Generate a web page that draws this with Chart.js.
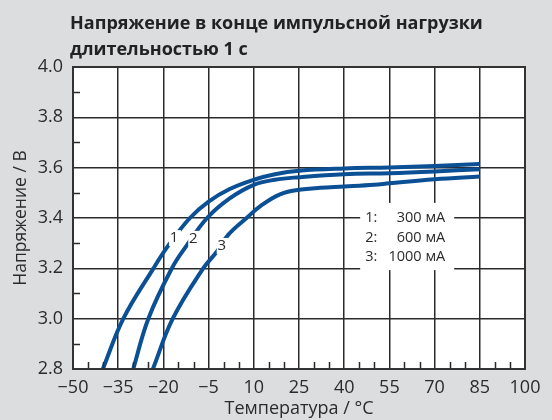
<!DOCTYPE html>
<html>
<head>
<meta charset="utf-8">
<script src="https://cdn.jsdelivr.net/npm/chart.js@4"></script>
<style>
  html, body { margin: 0; padding: 0; background: #dcdddf; }
  #wrap { width: 552px; height: 420px; position: relative; }
</style>
</head>
<body>
<div id="wrap"><canvas id="chart"></canvas></div>
<script>
// voltage at the end of a 1 s pulse vs. temperature, three load currents
const temps300 = [-40.1, -33.3, -23.3, -18.4, -11.2, -5, 2, 10, 17, 25, 40, 55, 70, 85];
const volts300 = [2.8, 3.0, 3.2, 3.29, 3.4, 3.465, 3.515, 3.552, 3.574, 3.588, 3.597, 3.601, 3.607, 3.615];

const temps600 = [-30, -25, -17.2, -12.3, -5.5, 2, 10, 17, 25, 40, 55, 70, 85];
const volts600 = [2.8, 3.0, 3.2, 3.29, 3.4, 3.478, 3.532, 3.552, 3.562, 3.574, 3.578, 3.585, 3.594];

const temps1000 = [-23.5, -16.9, -6.8, -2.3, 1.5, 7.6, 12.5, 18.7, 25, 32, 40, 50, 55, 70, 85];
const volts1000 = [2.8, 3.0, 3.2, 3.266, 3.333, 3.4, 3.45, 3.494, 3.512, 3.52, 3.525, 3.532, 3.538, 3.554, 3.565];

const curveNames = ['1', '2', '3'];
const currents = ['300 мА', '600 мА', '1000 мА'];

const xMin = -50, xMax = 100, xStep = 15;
const yMin = 2.8, yMax = 4.0, yStep = 0.2;

const titleLines = ['Напряжение в конце импульсной нагрузки', 'длительностью 1 с'];
const xTitle = 'Температура / °C';
const yTitle = 'Напряжение / В';

const FONT = "'Open Sans', 'Noto Sans', sans-serif";
const BLUE = '#0b4f94';
const INK = '#2b2b2b';

function pts(ts, vs) {
  return ts.map((t, i) => ({ x: t, y: vs[i] }));
}

// where the curve numbers sit (data coords) and the legend box corners
const labelSpots = [[-16.5, 3.32], [-10.1, 3.317], [-0.65, 3.289]];
const legendBox = { x0: 45.3, x1: 76.5, y0: 3.46, y1: 3.193 };

const decor = {
  id: 'decor',
  beforeDraw(chart) {
    const { ctx, chartArea: a } = chart;
    ctx.save();
    ctx.fillStyle = '#fff';
    ctx.fillRect(a.left, a.top, a.right - a.left, a.bottom - a.top);
    ctx.restore();
  },
  afterDatasetsDraw(chart) {
    const { ctx, chartArea: a, scales: { x, y } } = chart;
    ctx.save();

    // small inward ticks between the grid lines
    ctx.strokeStyle = INK;
    ctx.lineWidth = 1.5;
    ctx.beginPath();
    for (let t = xMin + 5; t < xMax; t += 5) {
      if ((t - xMin) % xStep === 0) continue;
      const px = Math.round(x.getPixelForValue(t)) + 0.5;
      ctx.moveTo(px, a.bottom);
      ctx.lineTo(px, a.bottom - 7);
    }
    for (let v = yMin + 0.1; v < yMax - 0.05; v += 0.2) {
      const py = Math.round(y.getPixelForValue(v)) + 0.5;
      ctx.moveTo(a.left, py);
      ctx.lineTo(a.left + 7, py);
    }
    ctx.stroke();

    // frame
    ctx.lineWidth = 2;
    ctx.strokeStyle = '#333';
    ctx.strokeRect(a.left, a.top, a.right - a.left, a.bottom - a.top);

    // curve numbers, with the line broken under them
    ctx.font = '15px ' + FONT;
    ctx.textAlign = 'center';
    ctx.textBaseline = 'middle';
    labelSpots.forEach(([t, v], i) => {
      const px = x.getPixelForValue(t), py = y.getPixelForValue(v);
      ctx.fillStyle = '#fff';
      ctx.fillRect(px - 5, py - 8, 12, 16);
      ctx.fillStyle = INK;
      ctx.fillText(curveNames[i], px, py);
    });

    // legend box
    const bx0 = x.getPixelForValue(legendBox.x0), bx1 = x.getPixelForValue(legendBox.x1);
    const by0 = y.getPixelForValue(legendBox.y0), by1 = y.getPixelForValue(legendBox.y1);
    ctx.fillStyle = '#fff';
    ctx.fillRect(bx0, by0, bx1 - bx0, by1 - by0);
    ctx.fillStyle = INK;
    ctx.font = '14.5px ' + FONT;
    const row0 = y.getPixelForValue(3.4);
    currents.forEach((c, i) => {
      const ry = row0 + i * 19.5;
      ctx.textAlign = 'left';
      ctx.fillText(curveNames[i] + ':', bx0 + 5, ry);
      ctx.textAlign = 'right';
      ctx.fillText(c, bx1 - 9, ry);
    });
    ctx.restore();
  },
  afterDraw(chart) {
    const { ctx } = chart;
    ctx.save();
    ctx.fillStyle = '#222';
    ctx.font = 'bold 18px ' + FONT;
    ctx.textAlign = 'left';
    ctx.textBaseline = 'alphabetic';
    ctx.fillText(titleLines[0], 70, 29);
    ctx.fillText(titleLines[1], 70, 54.5);
    ctx.restore();
  }
};

const line = (data) => ({
  data,
  borderColor: BLUE,
  borderWidth: 4,
  pointRadius: 0,
  tension: 0.4,
  fill: false
});

new Chart(document.getElementById('chart'), {
  type: 'line',
  data: {
    datasets: [
      line(pts(temps300, volts300)),
      line(pts(temps600, volts600)),
      line(pts(temps1000, volts1000))
    ]
  },
  options: {
    responsive: true,
    maintainAspectRatio: false,
    animation: false,
    layout: { padding: { top: 67, right: 27, left: 0, bottom: 0 } },
    plugins: { legend: { display: false }, tooltip: { enabled: false } },
    scales: {
      x: {
        type: 'linear',
        min: xMin, max: xMax,
        afterFit(s) { s.height = 51; },
        ticks: {
          stepSize: xStep,
          padding: 8,
          color: INK,
          font: { family: FONT, size: 18 },
          callback: v => String(v).replace('-', '\u2212')
        },
        grid: { color: INK, lineWidth: 1.5, drawTicks: false },
        border: { display: false },
        title: { display: true, text: xTitle, color: INK, padding: 0, font: { family: FONT, size: 18 } }
      },
      y: {
        min: yMin, max: yMax,
        afterFit(s) { s.width = 73; },
        ticks: {
          stepSize: yStep,
          padding: 10,
          color: INK,
          font: { family: FONT, size: 18 },
          callback: v => v.toFixed(1)
        },
        grid: { color: INK, lineWidth: 1.5, drawTicks: false },
        border: { display: false },
        title: { display: true, text: yTitle, color: INK, padding: { top: 11 }, font: { family: FONT, size: 17.5 } }
      }
    }
  },
  plugins: [decor]
});
</script>
</body>
</html>
